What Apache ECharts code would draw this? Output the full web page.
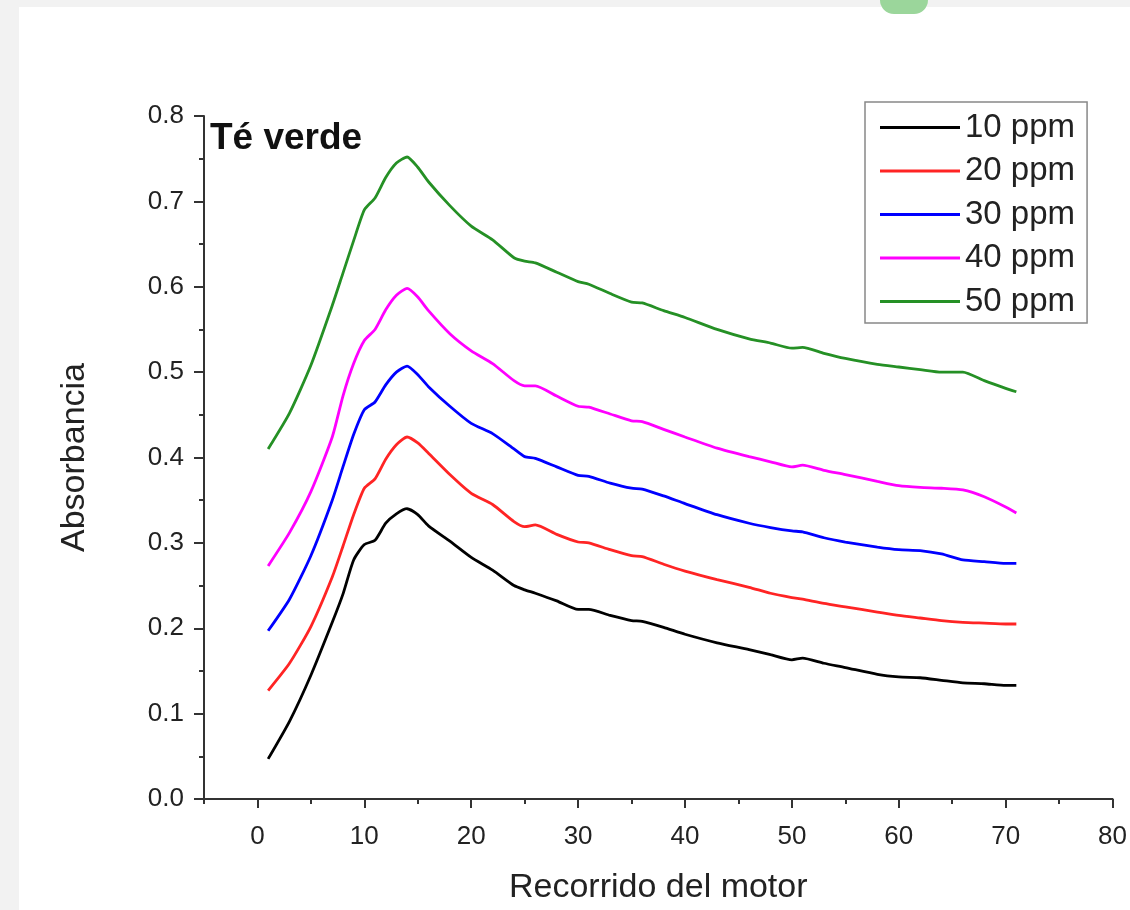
<!DOCTYPE html>
<html>
<head>
<meta charset="utf-8">
<script src="https://cdn.jsdelivr.net/npm/echarts@6/dist/echarts.min.js"></script>
<style>
  html, body { margin: 0; padding: 0; background: #f2f2f2; }
  #panel { position: absolute; left: 19px; top: 7px; right: 0; bottom: 0; background: #fff; }
  #chart { position: absolute; left: 0; top: 0; width: 1130px; height: 910px; }
</style>
</head>
<body>
<div id="panel"></div>
<div id="chart"></div>
<script>
// Recorrido del motor (eje x)
const recorrido = [1, 3, 5, 7, 8, 9, 10, 11, 12, 13, 14, 15, 16, 18, 20, 22, 24, 25, 26, 28,
  30, 31, 33, 35, 36, 38, 40, 43, 46, 48, 50, 51, 53, 55, 58, 60, 62, 64, 66, 68, 70, 71];

const ppm10 = [0.047, 0.091, 0.145, 0.207, 0.240, 0.280, 0.298, 0.303, 0.323, 0.334, 0.340, 0.333, 0.320, 0.302, 0.283, 0.268, 0.250, 0.245, 0.241, 0.232,
  0.222, 0.222, 0.215, 0.209, 0.208, 0.201, 0.193, 0.183, 0.175, 0.169, 0.163, 0.165, 0.159, 0.154, 0.146, 0.143, 0.142, 0.139, 0.136, 0.135, 0.133, 0.133];
const ppm20 = [0.127, 0.159, 0.202, 0.260, 0.296, 0.333, 0.364, 0.375, 0.398, 0.415, 0.424, 0.417, 0.405, 0.380, 0.358, 0.345, 0.325, 0.319, 0.321, 0.310,
  0.301, 0.300, 0.292, 0.285, 0.284, 0.275, 0.267, 0.257, 0.248, 0.241, 0.236, 0.234, 0.229, 0.225, 0.219, 0.215, 0.212, 0.209, 0.207, 0.206, 0.205, 0.205];
const ppm30 = [0.197, 0.234, 0.285, 0.350, 0.389, 0.427, 0.456, 0.465, 0.485, 0.500, 0.507, 0.497, 0.483, 0.460, 0.440, 0.428, 0.410, 0.401, 0.399, 0.389,
  0.379, 0.378, 0.370, 0.364, 0.363, 0.355, 0.346, 0.333, 0.323, 0.318, 0.314, 0.313, 0.306, 0.301, 0.295, 0.292, 0.291, 0.287, 0.280, 0.278, 0.276, 0.276];
const ppm40 = [0.273, 0.312, 0.360, 0.424, 0.472, 0.510, 0.537, 0.550, 0.573, 0.590, 0.598, 0.588, 0.572, 0.545, 0.525, 0.510, 0.490, 0.484, 0.484, 0.472,
  0.460, 0.459, 0.451, 0.443, 0.442, 0.433, 0.424, 0.411, 0.401, 0.395, 0.389, 0.391, 0.385, 0.380, 0.372, 0.367, 0.365, 0.364, 0.362, 0.354, 0.342, 0.335];
const ppm50 = [0.410, 0.452, 0.508, 0.578, 0.616, 0.654, 0.690, 0.704, 0.728, 0.745, 0.752, 0.740, 0.723, 0.695, 0.671, 0.655, 0.634, 0.630, 0.628, 0.617,
  0.606, 0.603, 0.592, 0.582, 0.581, 0.572, 0.564, 0.550, 0.539, 0.534, 0.528, 0.529, 0.522, 0.516, 0.509, 0.506, 0.503, 0.500, 0.500, 0.490, 0.481, 0.477];

const seriesNames = ['10 ppm', '20 ppm', '30 ppm', '40 ppm', '50 ppm'];
const seriesValues = [ppm10, ppm20, ppm30, ppm40, ppm50];
const seriesColors = ['#000000', '#ff2424', '#0000ff', '#ff00ff', '#259025'];

const xTicks = [0, 10, 20, 30, 40, 50, 60, 70, 80];

const chart = echarts.init(document.getElementById('chart'));
const axisColor = '#333';
const font = 'Liberation Sans, Arial, sans-serif';

const option = {
  backgroundColor: 'transparent',
  animation: false,
  title: {
    text: 'Té verde',
    left: 210,
    top: 120,
    padding: 0,
    textStyle: { fontFamily: font, fontSize: 37, fontWeight: 'bold', color: '#111' }
  },
  legend: {
    orient: 'vertical',
    left: 865,
    top: 102,
    padding: [8, 12, 4, 15],
    icon: 'rect',
    itemWidth: 80,
    itemHeight: 3,
    itemGap: 8.5,
    backgroundColor: '#fff',
    borderColor: '#888',
    borderWidth: 1.5,
    textStyle: { fontFamily: font, fontSize: 33, color: '#222', lineHeight: 35 },
    data: seriesNames
  },
  grid: { left: 204, right: 8, top: 116, bottom: 108 },
  xAxis: [
    {
      type: 'value',
      min: -5,
      max: 80,
      interval: 5,
      name: 'Recorrido del motor',
      nameLocation: 'middle',
      nameGap: 72,
      nameTextStyle: { fontFamily: font, fontSize: 34, color: '#222' },
      axisLine: { show: true, lineStyle: { color: axisColor, width: 2 } },
      axisTick: { show: true, customValues: xTicks, length: 9, lineStyle: { color: axisColor, width: 2 } },
      axisLabel: { customValues: xTicks, fontFamily: font, fontSize: 26, color: '#222', margin: 25 },
      splitLine: { show: false }
    },
    {
      // ticks menores cada 5
      type: 'value',
      min: -5,
      max: 80,
      interval: 5,
      position: 'bottom',
      axisLine: { show: false },
      axisTick: { show: true, length: 5, lineStyle: { color: axisColor, width: 2 } },
      axisLabel: { show: false },
      splitLine: { show: false }
    }
  ],
  yAxis: {
    type: 'value',
    min: 0,
    max: 0.8,
    interval: 0.1,
    name: 'Absorbancia',
    nameLocation: 'middle',
    nameGap: 112,
    nameTextStyle: { fontFamily: font, fontSize: 34, color: '#222' },
    axisLine: { show: true, onZero: false, lineStyle: { color: axisColor, width: 2 } },
    axisTick: { show: true, length: 10, lineStyle: { color: axisColor, width: 2 } },
    minorTick: { show: true, splitNumber: 2, length: 5, lineStyle: { color: axisColor, width: 2 } },
    axisLabel: {
      fontFamily: font, fontSize: 26, color: '#222', margin: 20,
      formatter: v => v.toFixed(1)
    },
    splitLine: { show: false }
  },
  graphic: [
    {
      type: 'rect',
      shape: { x: 880, y: -20, width: 48, height: 34, r: 14 },
      style: { fill: '#9bd69b' }
    }
  ],
  series: seriesNames.map((name, i) => ({
    name: name,
    type: 'line',
    xAxisIndex: 0,
    symbol: 'none',
    smooth: 0.2,
    color: seriesColors[i],
    lineStyle: { color: seriesColors[i], width: 2.8 },
    data: recorrido.map((x, j) => [x, seriesValues[i][j]])
  }))
};

chart.setOption(option);
</script>
</body>
</html>
